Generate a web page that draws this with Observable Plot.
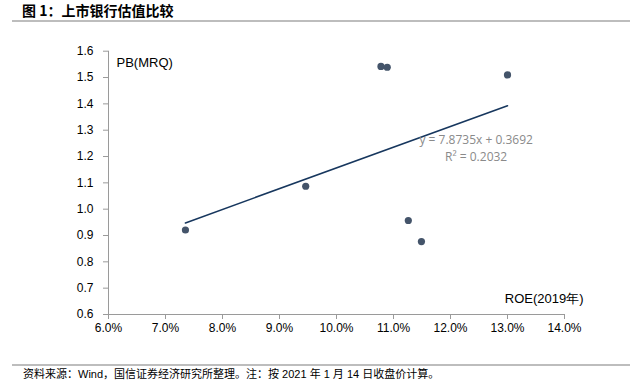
<!DOCTYPE html>
<html>
<head>
<meta charset="utf-8">
<script src="https://cdn.jsdelivr.net/npm/d3@7"></script>
<script src="https://cdn.jsdelivr.net/npm/@observablehq/plot@0.6"></script>
<style>
  html, body { margin: 0; padding: 0; background: #fff; }
  #wrap { position: relative; width: 637px; height: 385px; overflow: hidden; font-family: "Liberation Sans", Arial, sans-serif; }
  #title { position: absolute; left: 22px; top: 0px; font: bold 14px "Noto Sans CJK SC", sans-serif; color: #000; line-height: 20px; white-space: nowrap; }
  #tline { position: absolute; left: 12px; right: 7px; top: 20px; height: 2px; background: #bdbdbd; }
  #chart { position: absolute; left: 0; top: 30px; }
  #fline { position: absolute; left: 12px; right: 7px; top: 364px; height: 2px; background: #bdbdbd; }
  #foot { position: absolute; left: 23px; top: 367px; font: 11px "Liberation Sans", "Noto Sans CJK SC", sans-serif; color: #000; line-height: 14px; white-space: nowrap; }
</style>
</head>
<body>
<div id="wrap">
  <div id="title">图 1：上市银行估值比较</div>
  <div id="tline"></div>
  <div id="chart"></div>
  <div id="fline"></div>
  <div id="foot">资料来源：Wind，国信证券经济研究所整理。注：按 2021 年 1 月 14 日收盘价计算。</div>
</div>
<script>
// ROE (2019) and PB (MRQ) for listed banks
const roe = [0.0735, 0.0946, 0.1078, 0.1089, 0.1126, 0.1149, 0.1300];
const pb  = [0.921, 1.087, 1.542, 1.539, 0.957, 0.877, 1.510];

// Trendline shown on the chart
const slope = 7.8735;
const intercept = 0.3692;
const eqLines = ["y = 7.8735x + 0.3692", "R² = 0.2032"];

const xTicks = [0.06, 0.07, 0.08, 0.09, 0.10, 0.11, 0.12, 0.13, 0.14];
const yTicks = [0.6, 0.7, 0.8, 0.9, 1.0, 1.1, 1.2, 1.3, 1.4, 1.5, 1.6];

const points = roe.map((r, i) => ({roe: r, pb: pb[i]}));
const xExt = d3.extent(roe);
const trend = xExt.map(x => ({roe: x, pb: slope * x + intercept}));

const axisGray = "#9a9a9a";

const chart = Plot.plot({
  width: 637,
  height: 314,
  marginTop: 20.7,
  marginBottom: 30,
  marginLeft: 108,
  marginRight: 73,
  style: {fontFamily: "'Liberation Sans', Arial, sans-serif", fontSize: "12px", color: "#000", background: "transparent"},
  x: {domain: [0.06, 0.14], ticks: xTicks, tickFormat: d3.format(".1%")},
  y: {domain: [0.6, 1.6], ticks: yTicks, tickFormat: d3.format(".1f")},
  marks: [
    Plot.axisX({ticks: xTicks, tickFormat: d3.format(".1%"), tickSize: 5, tickPadding: 4, stroke: axisGray, fill: "#000", fontSize: 12, label: null}),
    Plot.axisY({ticks: yTicks, tickFormat: d3.format(".1f"), tickSize: 5, tickPadding: 10, stroke: axisGray, fill: "#000", fontSize: 12, label: null}),
    Plot.ruleY([0.6], {stroke: axisGray, strokeWidth: 1}),
    Plot.ruleX([0.06], {stroke: axisGray, strokeWidth: 1}),
    Plot.line(trend, {x: "roe", y: "pb", stroke: "#17375e", strokeWidth: 1.6}),
    Plot.dot(points, {x: "roe", y: "pb", r: 3.6, fill: "#44546a", stroke: "none"}),
    Plot.text([eqLines[0]], {x: () => 0.1245, y: () => 1.2, text: d => d, dy: -16, fill: "#8a8a8a", fontSize: 12, fontFamily: "'Open Sans', sans-serif", textAnchor: "middle"}),
    Plot.text([eqLines[1]], {x: () => 0.1245, y: () => 1.2, text: d => d, dy: 1, fill: "#8a8a8a", fontSize: 12, fontFamily: "'Open Sans', sans-serif", textAnchor: "middle"}),
    Plot.text(["PB(MRQ)"], {frameAnchor: "top-left", text: d => d, dx: 8, dy: 7, fontSize: 13, fill: "#000"}),
    Plot.text(["ROE(2019年)"], {frameAnchor: "bottom-right", text: d => d, dx: 19, dy: -12, fontSize: 13, fill: "#000", textAnchor: "end"})
  ]
});
document.getElementById("chart").appendChild(chart);
</script>
</body>
</html>
